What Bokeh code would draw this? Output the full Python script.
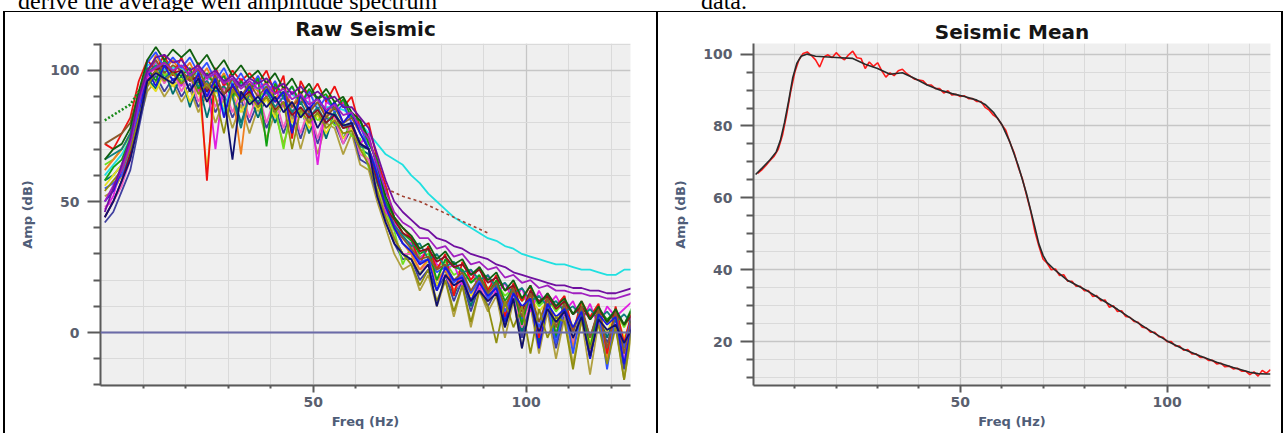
from bokeh.plotting import figure
from bokeh.layouts import row, column
from bokeh.models import FixedTicker, Span, Range1d, Div
from bokeh.embed import file_html
from bokeh.resources import INLINE

# ---------------- data: left panel (Raw Seismic) ----------------
raw_freq = [1, 3, 5, 7, 9, 11, 13, 15, 17, 19, 21, 23, 25, 27, 29, 31, 33, 35, 37, 39,
            41, 43, 45, 47, 49, 51, 53, 55, 57, 59, 61, 63, 65, 67, 69, 71, 73, 75, 77, 79,
            81, 83, 85, 87, 89, 91, 93, 95, 97, 99, 101, 103, 105, 107, 109, 111, 113, 115,
            117, 119, 121, 123, 125]

raw_khaki = [52, 54, 60, 68, 80, 92, 96, 90, 95,
             88, 93, 84, 91, 80, 89, 78, 87, 76,
             86, 74, 84, 72, 83, 70, 82, 68, 80,
             78, 68, 76, 64, 62, 50, 40, 30, 24,
             26, 16, 22, 10, 20, 6, 18, 2, 16,
             8, 14, -2, 12, -6, 10, -8, 8, -10,
             6, -12, 5, -16, 4, -10, 3, -18, 2]
raw_slate = [42, 46, 54, 62, 78, 94, 98, 92, 97,
             90, 95, 86, 93, 84, 91, 82, 89, 80,
             88, 78, 86, 76, 85, 74, 84, 72, 82,
             80, 72, 78, 66, 64, 52, 42, 34, 28,
             28, 20, 24, 16, 22, 12, 20, 8, 18,
             10, 16, 2, 14, -2, 12, -4, 10, -6,
             8, -6, 7, -10, 6, -4, 5, -14, 4]
raw_darkteal = [58, 60, 64, 72, 86, 97, 93, 100, 91,
                98, 86, 96, 82, 94, 84, 92, 80, 90,
                82, 90, 80, 88, 78, 86, 76, 84, 74,
                84, 74, 80, 70, 68, 56, 46, 36, 30,
                30, 22, 28, 18, 24, 14, 22, 10, 20,
                12, 18, 4, 16, 0, 14, -4, 12, -2,
                10, -4, 9, -8, 8, -2, 7, -10, 6]
raw_yellow = [56, 60, 64, 70, 84, 96, 92, 99, 94,
              97, 88, 95, 62, 93, 86, 91, 84, 90,
              85, 89, 82, 87, 80, 85, 78, 83, 76,
              82, 74, 78, 70, 66, 56, 46, 36, 30,
              30, 22, 28, 18, 24, 20, 22, 14, 20,
              16, 18, 10, 16, 2, 14, 8, 12, 4,
              10, 2, 8, -4, 7, 0, 8, -2, 6]
raw_lime = [64, 66, 70, 75, 88, 100, 103, 98, 100,
            96, 98, 94, 96, 92, 94, 90, 92, 88,
            90, 92, 86, 70, 88, 83, 85, 81, 83,
            79, 80, 75, 74, 63, 58, 46, 39, 26,
            33, 29, 30, 25, 27, 22, 24, 19, 21,
            17, 19, 14, 17, 12, 15, 10, 13, 8,
            12, 7, 11, 5, 9, 4, 8, 2, 8]
raw_pink = [48, 50, 56, 66, 84, 98, 101, 95, 100,
            92, 98, 88, 96, 86, 94, 84, 92, 82,
            92, 80, 90, 78, 88, 76, 86, 74, 84,
            82, 72, 80, 68, 66, 54, 44, 36, 30,
            30, 24, 26, 20, 22, 16, 20, 12, 18,
            12, 16, 6, 14, 2, 12, -2, 10, 0,
            8, -4, 7, -8, 6, -6, 5, -10, 6]
raw_orange = [62, 66, 70, 76, 90, 98, 106, 100, 104,
              99, 103, 96, 101, 94, 99, 92, 68, 95,
              92, 96, 89, 94, 86, 92, 84, 90, 82,
              88, 80, 84, 76, 70, 62, 50, 40, 34,
              30, 24, 28, 20, 24, 16, 22, 12, 20,
              14, 18, 8, 16, 4, 14, 0, 12, 2,
              10, -6, 9, -2, 8, -10, 7, -4, 6]
raw_cyan = [60, 64, 68, 74, 90, 102, 103, 100, 101,
            101, 98, 99, 97, 96, 84, 96, 95, 94,
            93, 94, 92, 90, 91, 88, 88, 87, 86,
            86, 85, 83, 80, 76, 72, 68, 66, 64,
            60, 57, 53, 50, 47, 44, 42, 40, 38,
            36, 35, 33, 32, 30, 29, 28, 27, 26,
            26, 25, 24, 24, 23, 22, 22, 24, 24]
raw_magenta = [47, 52, 64, 72, 86, 97, 104, 96, 100,
               94, 100, 92, 98, 70, 96, 92, 97, 90,
               96, 90, 94, 86, 92, 88, 90, 64, 88,
               86, 88, 80, 72, 76, 62, 46, 42, 36,
               34, 28, 32, 26, 24, 26, 18, 24, 16,
               22, 14, 19, 12, 17, 8, 16, 10, 14,
               8, 12, 4, 11, 2, 10, 6, 9, 12]
raw_red = [72, 70, 76, 82, 96, 104, 100, 106, 98,
           105, 97, 103, 58, 101, 94, 100, 96, 99,
           95, 100, 91, 98, 74, 96, 90, 95, 88,
           94, 86, 90, 78, 80, 66, 56, 44, 40,
           36, 26, 33, 24, 30, 14, 27, 20, 25,
           16, 22, 6, 19, 12, 18, -2, 15, 10,
           14, 0, 12, 6, 11, -8, 10, -4, 9]
raw_blue2 = [55, 57, 60, 68, 86, 103, 107, 101, 105,
             101, 105, 99, 103, 96, 101, 94, 99, 93,
             98, 91, 96, 89, 94, 87, 92, 85, 90,
             84, 87, 80, 79, 70, 62, 50, 40, 34,
             31, 27, 28, 23, 25, 19, 22, 15, 20,
             13, 18, 8, 15, 5, 13, 2, 11, -4,
             10, -8, 9, -2, 8, -14, 7, -6, 8]
raw_green = [58, 63, 66, 74, 90, 101, 96, 104, 99,
             98, 101, 93, 99, 94, 98, 90, 96, 92,
             97, 71, 95, 90, 94, 87, 93, 89, 91,
             85, 89, 82, 81, 72, 66, 50, 44, 38,
             35, 30, 32, 20, 28, 25, 24, 19, 22,
             15, 20, 12, 17, 3, 16, 11, 14, -1,
             12, 7, 10, -6, 9, 5, 8, 3, 10]
raw_teal = [66, 68, 70, 76, 88, 99, 102, 97, 100,
            95, 99, 94, 96, 92, 94, 90, 78, 92,
            88, 92, 86, 90, 84, 88, 82, 86, 80,
            84, 78, 80, 71, 70, 57, 49, 41, 37,
            33, 34, 28, 30, 25, 27, 23, 24, 20,
            22, 17, 19, 15, 17, 12, 14, 10, 12,
            8, 10, 6, 9, 5, 8, 4, 7, 3]
raw_maroon = [44, 50, 58, 68, 82, 96, 100, 102, 99,
              100, 96, 98, 92, 96, 91, 94, 89, 92,
              87, 90, 85, 88, 83, 86, 82, 85, 80,
              83, 78, 79, 72, 70, 58, 48, 43, 38,
              36, 31, 32, 27, 29, 25, 26, 22, 24,
              19, 21, 16, 18, 8, 16, 12, 14, 9,
              12, 7, 10, 5, 9, 4, 8, 3, 7]
raw_brown = [72, 74, 76, 80, 92, 100, 104, 99, 102,
             100, 96, 101, 93, 98, 91, 97, 90, 95,
             90, 94, 88, 92, 86, 90, 84, 88, 82,
             86, 80, 82, 76, 70, 60, 48, 40, 36,
             32, 28, 29, 24, 26, 20, 23, 16, 21,
             15, 19, 10, 17, 6, 15, 4, 13, 2,
             11, 0, 10, -2, 9, -6, 8, -8, 7]
raw_blue = [50, 54, 62, 70, 82, 100, 94, 102, 96,
            100, 92, 99, 90, 97, 82, 95, 89, 94,
            86, 93, 88, 92, 76, 91, 85, 90, 84,
            88, 80, 84, 76, 70, 60, 48, 40, 34,
            31, 26, 28, 16, 25, 20, 21, 12, 19,
            14, 17, 4, 15, 10, 13, -6, 11, 6,
            9, 2, 8, -10, 7, 3, 6, -12, 5]
raw_olive = [54, 58, 62, 70, 82, 94, 100, 96, 99,
             95, 98, 91, 95, 90, 76, 93, 88, 91,
             86, 90, 84, 88, 70, 85, 80, 84, 78,
             81, 76, 77, 70, 64, 54, 44, 36, 30,
             26, 18, 24, 12, 20, 8, 18, 4, 16,
             10, -4, 12, 2, 10, -8, 9, -2, 6,
             4, -14, 5, -6, 3, -12, 2, -18, 4]
raw_navy = [44, 50, 58, 66, 80, 96, 99, 97, 95,
            100, 92, 97, 88, 94, 90, 66, 92, 87,
            90, 86, 90, 84, 88, 82, 86, 78, 84,
            83, 79, 80, 72, 70, 52, 42, 34, 30,
            28, 22, 26, 10, 22, 18, 20, 12, 16,
            12, 15, 2, 13, -6, 11, 0, 9, 4,
            8, -2, 6, -9, 5, 1, 3, -4, 2]
raw_darkgreen = [66, 70, 72, 78, 92, 104, 109, 104, 108,
                 105, 108, 102, 106, 100, 104, 98, 102, 97,
                 100, 95, 99, 93, 97, 91, 95, 89, 93,
                 88, 90, 84, 81, 74, 64, 52, 44, 40,
                 37, 32, 34, 28, 31, 26, 28, 22, 25,
                 20, 23, 16, 20, 13, 18, 11, 15, 10,
                 13, 7, 12, 5, 10, 4, 9, 3, 9]
raw_violet = [50, 56, 62, 72, 88, 99, 101, 103, 100,
              102, 98, 101, 97, 99, 95, 97, 93, 96,
              93, 95, 91, 93, 89, 91, 87, 89, 85,
              87, 83, 84, 78, 74, 64, 54, 46, 42,
              40, 36, 36, 32, 33, 29, 30, 26, 27,
              24, 25, 21, 22, 19, 20, 17, 18, 16,
              16, 15, 15, 14, 14, 13, 13, 14, 15]
raw_purple = [46, 55, 64, 74, 90, 100, 105, 106, 103,
              104, 100, 102, 98, 100, 96, 98, 94, 97,
              95, 97, 93, 95, 91, 94, 90, 92, 89,
              90, 86, 86, 82, 78, 68, 58, 50, 46,
              43, 40, 39, 36, 35, 33, 32, 30, 29,
              28, 26, 25, 23, 22, 21, 20, 19, 18,
              18, 17, 17, 16, 16, 15, 15, 16, 17]

dotted_freq = [1, 3, 5, 7, 9]
dotted_green = [81, 83, 85, 87, 92]
dashed_freq = [67, 71, 75, 79, 83, 87, 91]
dashed_brown = [55, 52, 50, 47, 44, 41, 38]
zero_level = 0

raw_series = [
    (raw_khaki, "#b0a040"), (raw_slate, "#4040a0"), (raw_darkteal, "#007070"),
    (raw_yellow, "#e6e020"), (raw_lime, "#6fe020"), (raw_pink, "#f060c0"),
    (raw_orange, "#f08020"), (raw_cyan, "#20e0e0"), (raw_magenta, "#e020e0"),
    (raw_red, "#ee1111"), (raw_blue2, "#3050ff"), (raw_green, "#10a010"),
    (raw_teal, "#108080"), (raw_maroon, "#901020"), (raw_brown, "#8b5a2b"),
    (raw_blue, "#1818e0"), (raw_olive, "#8f8f10"), (raw_navy, "#101070"),
    (raw_darkgreen, "#106010"), (raw_violet, "#a020c0"), (raw_purple, "#7010a0"),
]

# ---------------- data: right panel (Seismic Mean) ----------------
red_freq = [1, 2, 3, 4, 5, 6, 7, 8, 9, 10, 11, 12, 13, 14, 15, 16, 17, 18, 19, 20,
            21, 22, 23, 24, 25, 26, 27, 28, 29, 30, 31, 32, 33, 34, 35, 36, 37, 38, 39, 40,
            41, 42, 43, 44, 45, 46, 47, 48, 49, 50, 51, 52, 53, 54, 55, 56, 57, 58, 59, 60,
            61, 62, 63, 64, 65, 66, 67, 68, 69, 70, 71, 72, 73, 74, 75, 76, 77, 78, 79, 80,
            81, 82, 83, 84, 85, 86, 87, 88, 89, 90, 91, 92, 93, 94, 95, 96, 97, 98, 99, 100,
            101, 102, 103, 104, 105, 106, 107, 108, 109, 110, 111, 112, 113, 114, 115, 116,
            117, 118, 119, 120, 121, 122, 123, 124, 125]
red_amp = [66.8, 67.8, 69.0, 70.4, 71.6, 73.6, 77.4, 83.0, 89.6, 95.0,
           98.4, 100.2, 100.6, 99.6, 98.4, 96.4, 99.2, 99.8, 99.0, 100.4,
           99.2, 98.4, 99.8, 100.8, 99.0, 98.8, 96.0, 97.8, 96.6, 97.6,
           95.4, 93.6, 94.8, 94.0, 95.4, 95.8, 94.6, 93.8, 93.0, 92.8,
           92.6, 91.4, 91.4, 90.4, 90.4, 89.2, 89.8, 88.6, 88.8, 88.2,
           88.4, 87.6, 87.6, 86.8, 86.8, 85.2, 84.4, 83.0, 82.2, 80.4,
           78.8, 75.4, 72.6, 68.6, 65.4, 60.8, 56.4, 50.8, 46.6, 43.0,
           41.8, 40.0, 40.2, 38.4, 38.6, 36.8, 36.8, 35.4, 35.4, 34.2,
           34.2, 32.6, 32.8, 31.4, 31.6, 29.6, 30.0, 28.4, 28.6, 27.0,
           26.8, 25.6, 25.4, 24.0, 23.8, 22.6, 22.6, 21.4, 21.2, 20.0,
           20.0, 18.8, 18.8, 17.6, 17.8, 16.6, 16.6, 15.6, 15.6, 14.8,
           14.8, 13.8, 14.0, 13.0, 13.2, 12.4, 12.6, 11.8, 11.8, 10.8,
           11.6, 10.4, 12.0, 11.2, 12.2]
mean_freq = [0.5, 2, 4, 5.5, 6.5, 7.5, 8.5, 9.5, 10.5, 11.5, 13, 15, 18, 21, 24, 27, 30,
             33, 36, 39, 42, 45, 48, 51, 54, 56, 58, 60, 62, 64, 66, 68, 69, 70, 71, 73,
             76, 80, 84, 88, 92, 96, 100, 104, 108, 112, 116, 120, 122, 124, 125]
mean_amp = [66.5, 68.2, 70.6, 72.8, 76.0, 81.0, 87.0, 93.5, 97.5, 99.4, 100.0, 99.4,
            99.2, 99.0, 98.8, 97.2, 96.0, 94.4, 94.8, 93.2, 91.4, 90.0, 89.0, 88.2, 87.2,
            86.0, 83.8, 80.5, 75.5, 69.0, 61.2, 52.0, 47.2, 44.0, 42.0, 39.8, 37.0, 34.6,
            31.8, 29.0, 25.9, 23.0, 20.2, 17.9, 16.0, 14.3, 12.8, 11.5, 11.1, 11.0, 11.0]

left_x_major = [50, 100]
left_x_minor = [10, 20, 30, 40, 60, 70, 80, 90, 110, 120]
left_y_major = [0, 50, 100]
left_y_minor = [-20, -10, 10, 20, 30, 40, 60, 70, 80, 90, 110]
right_x_major = [50, 100]
right_x_minor = [10, 20, 30, 40, 60, 70, 80, 90, 110, 120]
right_y_major = [20, 40, 60, 80, 100]
right_y_minor = [10, 15, 25, 30, 35, 45, 50, 55, 65, 70, 75, 85, 90, 95]

AX = "#5a5a5a"
FIG_H = 421


def style(p, xt, xm, yt, ym, title_standoff):
    p.background_fill_color = "#efefef"
    p.border_fill_color = "white"
    p.outline_line_color = None
    xtk = FixedTicker(ticks=xt, minor_ticks=xm)
    ytk = FixedTicker(ticks=yt, minor_ticks=ym)
    p.xaxis.ticker = xtk
    p.yaxis.ticker = ytk
    p.xgrid.ticker = xtk
    p.ygrid.ticker = ytk
    for ax in (p.xaxis[0], p.yaxis[0]):
        ax.axis_line_color = AX
        ax.axis_line_width = 2
        ax.major_tick_line_color = AX
        ax.major_tick_line_width = 2
        ax.minor_tick_line_color = AX
        ax.minor_tick_line_width = 2
        ax.major_tick_in = 0
        ax.minor_tick_in = 0
        ax.major_label_text_font = "DejaVu Sans"
        ax.major_label_text_font_style = "bold"
        ax.major_label_text_font_size = "14px"
        ax.major_label_text_color = "#5a5f6e"
        ax.axis_label_text_font = "DejaVu Sans"
        ax.axis_label_text_font_style = "bold"
        ax.axis_label_text_font_size = "13px"
        ax.axis_label_text_color = "#4f5d78"
    p.yaxis.major_tick_out = 13
    p.yaxis.minor_tick_out = 7
    p.yaxis.major_label_standoff = 8
    p.yaxis.axis_label_standoff = 12
    p.xaxis.major_tick_out = 7
    p.xaxis.minor_tick_out = 3
    p.xaxis.major_label_standoff = 4
    p.xaxis.axis_label_standoff = 4
    for g in (p.xgrid[0], p.ygrid[0]):
        g.grid_line_color = "#c6c6c6"
        g.grid_line_width = 1.3
        g.minor_grid_line_color = "#dadada"
        g.minor_grid_line_width = 1
    p.title.align = "center"
    p.title.text_font = "DejaVu Sans"
    p.title.text_font_style = "bold"
    p.title.text_font_size = "20px"
    p.title.text_color = "#151515"
    p.title.standoff = title_standoff


# ---------------- left figure ----------------
p1 = figure(width=651, height=FIG_H, output_backend="svg", toolbar_location=None,
            x_range=Range1d(0, 124.5), y_range=Range1d(-20.2, 110.3),
            title="Raw Seismic", x_axis_label="Freq (Hz)", y_axis_label="Amp (dB)",
            min_border_left=95, min_border_right=26, min_border_top=30,
            min_border_bottom=48)
style(p1, left_x_major, left_x_minor, left_y_major, left_y_minor, 5)

for ys, col in raw_series:
    p1.line(raw_freq, ys, line_color=col, line_width=1.8)
p1.line(dotted_freq, dotted_green, line_color="#1a8a1a", line_width=2.6, line_dash="2 2")
p1.line(dashed_freq, dashed_brown, line_color="#a04030", line_width=1.6, line_dash="3 3")
p1.add_layout(Span(location=zero_level, dimension="width", line_color="#6a6aa8",
                   line_width=2))

# ---------------- right figure ----------------
p2 = figure(width=623, height=FIG_H, output_backend="svg", toolbar_location=None,
            x_range=Range1d(0, 125), y_range=Range1d(7.8, 102.95),
            title="Seismic Mean", x_axis_label="Freq (Hz)", y_axis_label="Amp (dB)",
            min_border_left=95, min_border_right=11, min_border_top=30,
            min_border_bottom=48)
style(p2, right_x_major, right_x_minor, right_y_major, right_y_minor, 0)
p2.line(red_freq, red_amp, line_color="#ff1a1a", line_width=1.6)
p2.line(mean_freq, mean_amp, line_color="#2a2a2a", line_width=1.6)

# ---------------- document text above the table + table rules ----------------
serif = "font-family:'Liberation Serif',serif;font-size:24px;line-height:28px;white-space:nowrap;color:#000;"
top_html = (
    '<div style="position:relative;width:1285px;height:12px;overflow:hidden;">'
    '<span style="position:absolute;left:18px;top:-13px;' + serif + '">'
    'derive the average well amplitude spectrum</span>'
    '<span style="position:absolute;left:701px;top:-13px;' + serif + '">data.</span>'
    '<div style="position:absolute;left:3px;top:11px;width:1280px;height:1.5px;'
    'background:#000;"></div>'
    '</div>'
)
top_div = Div(text=top_html, width=1285, height=12, margin=0)


def vline(w, color="#000"):
    return Div(text="", width=w, height=FIG_H, margin=0,
               styles={"background-color": color})


body = row(vline(3, "#fff"), vline(2), p1, vline(2), p2, vline(2), vline(2, "#fff"),
           spacing=0)
layout = column(top_div, body, spacing=0)
open("out.html", "w").write(file_html(layout, INLINE))
